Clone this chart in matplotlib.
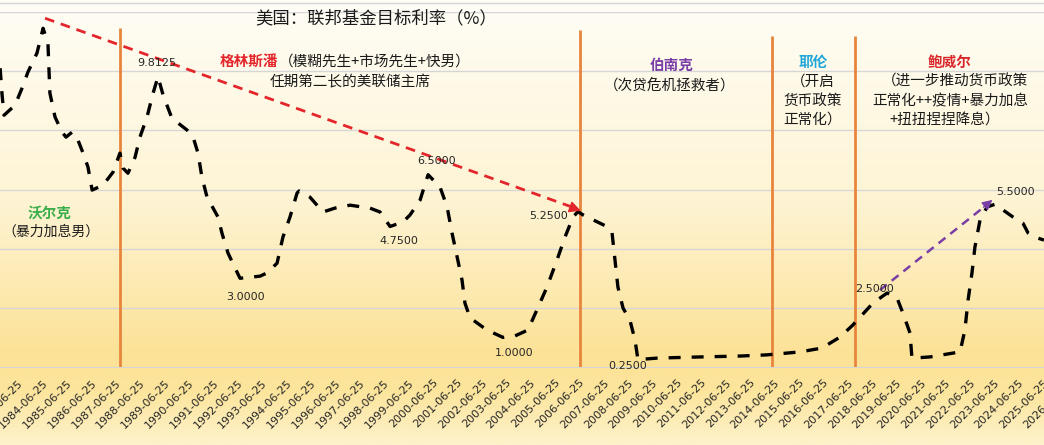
import matplotlib
matplotlib.use("Agg")
import matplotlib.pyplot as plt
import numpy as np
from matplotlib.lines import Line2D

plt.rcParams['font.family'] = ['Noto Sans CJK SC', 'DejaVu Sans']

# fed funds target rate (decimal year, %)
years = [1982.60, 1982.68, 1982.76, 1983.21, 1983.50, 1983.74, 1984.11, 1984.36,
         1984.56, 1984.64, 1984.85, 1985.14, 1985.30, 1985.55, 1985.79, 1986.00,
         1986.20, 1986.37, 1986.82, 1987.23, 1987.51, 1987.64, 1987.84, 1988.13,
         1988.33, 1988.62, 1988.87, 1989.07, 1989.28, 1989.64, 1990.26, 1990.51,
         1990.71, 1990.87, 1991.08, 1991.53, 1991.69, 1991.94, 1992.43, 1993.25,
         1993.54, 1993.95, 1994.19, 1994.48, 1994.77, 1994.85, 1995.30, 1995.83,
         1996.32, 1996.94, 1997.76, 1998.17, 1998.58, 1999.11, 1999.40, 1999.81,
         2000.14, 2000.63, 2000.92, 2001.12, 2001.33, 2001.53, 2001.65, 2001.86,
         2002.55, 2003.21, 2003.70, 2004.23, 2004.60, 2005.01, 2005.42, 2005.75,
         2006.08, 2006.28, 2006.49, 2007.51, 2007.68, 2007.80, 2007.92, 2008.13,
         2008.41, 2008.62, 2008.74, 2009.52, 2011.28, 2012.92, 2014.03, 2015.38,
         2016.28, 2017.02, 2017.55, 2018.37, 2018.95, 2019.36, 2019.60, 2019.89,
         2019.97, 2020.71, 2021.94, 2022.14, 2022.27, 2022.43, 2022.55, 2022.76,
         2023.05, 2023.37, 2024.11, 2024.52, 2024.73, 2025.01, 2025.38]
rates = [10.10, 9.20, 8.51, 8.85, 9.43, 9.97, 10.61, 11.45,
         10.95, 9.26, 8.45, 7.94, 7.77, 7.94, 7.67, 7.23,
         6.76, 5.98, 6.15, 6.59, 7.23, 6.72, 6.55, 7.09,
         7.77, 8.45, 9.26, 9.8125, 9.19, 8.41, 8.01, 7.77,
         7.23, 6.42, 5.74, 5.07, 4.53, 3.85, 3.00, 3.07,
         3.18, 3.51, 4.39, 5.07, 5.88, 5.95, 5.74, 5.24,
         5.37, 5.47, 5.37, 5.24, 4.75, 4.90, 5.14, 5.64,
         6.50, 6.08, 5.41, 4.53, 3.72, 2.94, 2.16, 1.66,
         1.25, 1.00, 1.05, 1.25, 1.93, 2.70, 3.61, 4.39,
         5.07, 5.25, 5.14, 4.73, 4.53, 3.61, 2.70, 1.99,
         1.59, 0.91, 0.25, 0.30, 0.34, 0.37, 0.41, 0.51,
         0.64, 1.01, 1.42, 2.16, 2.50, 2.33, 1.82, 1.15,
         0.30, 0.34, 0.51, 1.25, 2.26, 3.18, 4.05, 4.97,
         5.41, 5.50, 5.07, 4.86, 4.53, 4.39, 4.29]

tick_years = list(range(1983, 2027))
tick_labels = [f"{y}-06-25" for y in tick_years]

# chair changes (orange verticals)
chair_years = [1987.51, 2006.37, 2014.23, 2017.64]
chair_tops = [11.45, 11.4, 11.2, 11.2]

# labelled points and label offsets in pixels
label_years = [1989.07, 2000.14, 2006.28, 1998.58, 1992.43, 2003.21, 2008.74, 2018.95, 2023.37]
label_rates = [9.8125, 6.5, 5.25, 4.75, 3.0, 1.0, 0.25, 2.5, 5.5]
label_dx = [-1, 8, -29, 9, 6, 11, -10, -13, 21]
label_dy = [14, 14, -4, -15, -19, -16, -6, 4, 12]

W, H = 1044, 445
AX_W = 1110          # the axis runs on past the right edge of the crop
PX_PER_YEAR = 24.4
X0 = 1982.595


def fx(px):
    return px / W


def fy(py):
    return 1 - py / H


fig = plt.figure(figsize=(W / 100, H / 100), dpi=100)

# gradient background
stops = np.array([[0.00, 255, 253, 246],
                  [0.45, 254, 244, 212],
                  [0.80, 252, 226, 150],
                  [0.88, 252, 229, 156],
                  [1.00, 254, 242, 203]])
t = np.linspace(0, 1, 400)
grad = np.stack([np.interp(t, stops[:, 0], stops[:, i]) for i in (1, 2, 3)], axis=-1) / 255
bg = fig.add_axes([0, 0, 1, 1], zorder=-5)
bg.imshow(grad[:, None, :], aspect='auto', extent=[0, 1, 0, 1])
bg.axis('off')
fig.add_artist(Line2D([0, 1], [fy(3), fy(3)], color='#d4d4d4', lw=1))

ax = fig.add_axes([0, fy(367), AX_W / W, (367 - 12) / H])
ax.set_facecolor('none')
ax.set_yticks(np.arange(2, 13, 2))
ax.yaxis.grid(True, color='#d6d6d6', lw=1)
ax.set_axisbelow(True)
ax.tick_params(axis='y', left=False, labelleft=False)
for s in ['top', 'left', 'right']:
    ax.spines[s].set_visible(False)
ax.spines['bottom'].set_color('#d6d6d6')

ax.set_xticks([y + 0.48 for y in tick_years])
ax.set_xticklabels(tick_labels, family='DejaVu Sans')
ax.tick_params(axis='x', length=0, pad=10, labelsize=8, labelcolor='#262626')
for lbl in ax.get_xticklabels():
    lbl.set_rotation(45)
    lbl.set_ha('right')
    lbl.set_va('center')
    lbl.set_rotation_mode('anchor')
# limits after the ticks, so the ticks don't stretch the view
ax.set_xlim(X0, X0 + AX_W / PX_PER_YEAR)
ax.set_ylim(0, 12)

ax.vlines(chair_years, 0, chair_tops, color='#E8853D', lw=2, zorder=2)

ax.plot(years, rates, color='black', lw=2.4, ls=(0, (3.6, 3.3)),
        dash_capstyle='butt', zorder=3)

# Greenspan-era trend arrow (red) and Powell arrow (purple)
red = '#e3262b'
ax.plot([1984.44, 2006.30], [11.79, 5.33], color=red, lw=2, ls=(0, (3.5, 2.5)), zorder=4)
ax.annotate('', xy=(2006.40, 5.28), xytext=(2006.0, 5.40),
            arrowprops=dict(arrowstyle='-|>,head_length=0.7,head_width=0.35',
                            color=red, lw=1, shrinkA=0, shrinkB=0), zorder=4)
purple = '#7a3fa6'
ax.plot([2018.66, 2023.15], [2.60, 5.56], color=purple, lw=1.8, ls=(0, (3.5, 2.5)), zorder=4)
ax.annotate('', xy=(2023.27, 5.65), xytext=(2022.9, 5.40),
            arrowprops=dict(arrowstyle='-|>,head_length=0.6,head_width=0.3',
                            color=purple, lw=1, shrinkA=0, shrinkB=0), zorder=4)

for yr, v, dx, dy in zip(label_years, label_rates, label_dx, label_dy):
    ax.annotate(f"{v:.4f}", xy=(yr, v), xytext=(dx, dy), textcoords='offset pixels',
                ha='center', va='center', fontsize=8, color='#262626',
                family='DejaVu Sans', zorder=5)

# title and chair notes
fig.text(fx(376), fy(18), '美国：联邦基金目标利率（%）', ha='center', va='center',
         fontsize=12.5, color='#1a1a1a')

fs = 10.5
txt = '#1a1a1a'
fig.text(fx(50), fy(213), '沃尔克', ha='center', va='center', fontsize=fs,
         color='#3aae4a', weight='bold')
fig.text(fx(51), fy(232), '（暴力加息男）', ha='center', va='center', fontsize=10, color=txt)

g = fig.text(fx(220), fy(62), '格林斯潘', ha='left', va='center', fontsize=fs,
             color=red, weight='bold')
ax.annotate('（模糊先生+市场先生+快男）', xy=(1, 0.5), xycoords=g, ha='left', va='center',
            fontsize=fs, color=txt)
fig.text(fx(350), fy(82), '任期第二长的美联储主席', ha='center', va='center', fontsize=fs, color=txt)

fig.text(fx(672), fy(65), '伯南克', ha='center', va='center', fontsize=fs,
         color=purple, weight='bold')
fig.text(fx(670), fy(85), '（次贷危机拯救者）', ha='center', va='center', fontsize=fs, color=txt)

fig.text(fx(813), fy(62), '耶伦', ha='center', va='center', fontsize=fs,
         color='#1fa6d8', weight='bold')
for py, s in zip([82, 101, 120], ['（开启', '货币政策', '正常化）']):
    fig.text(fx(813), fy(py), s, ha='center', va='center', fontsize=fs, color=txt)

fig.text(fx(950), fy(62), '鲍威尔', ha='center', va='center', fontsize=fs,
         color='#d9262b', weight='bold')
for px, py, s in zip([955, 950, 945], [82, 101, 121],
                     ['（进一步推动货币政策', '正常化++疫情+暴力加息', '+扭扭捏捏降息）']):
    fig.text(fx(px), fy(py), s, ha='center', va='center', fontsize=fs, color=txt)

fig.savefig('out.png', dpi=100)
